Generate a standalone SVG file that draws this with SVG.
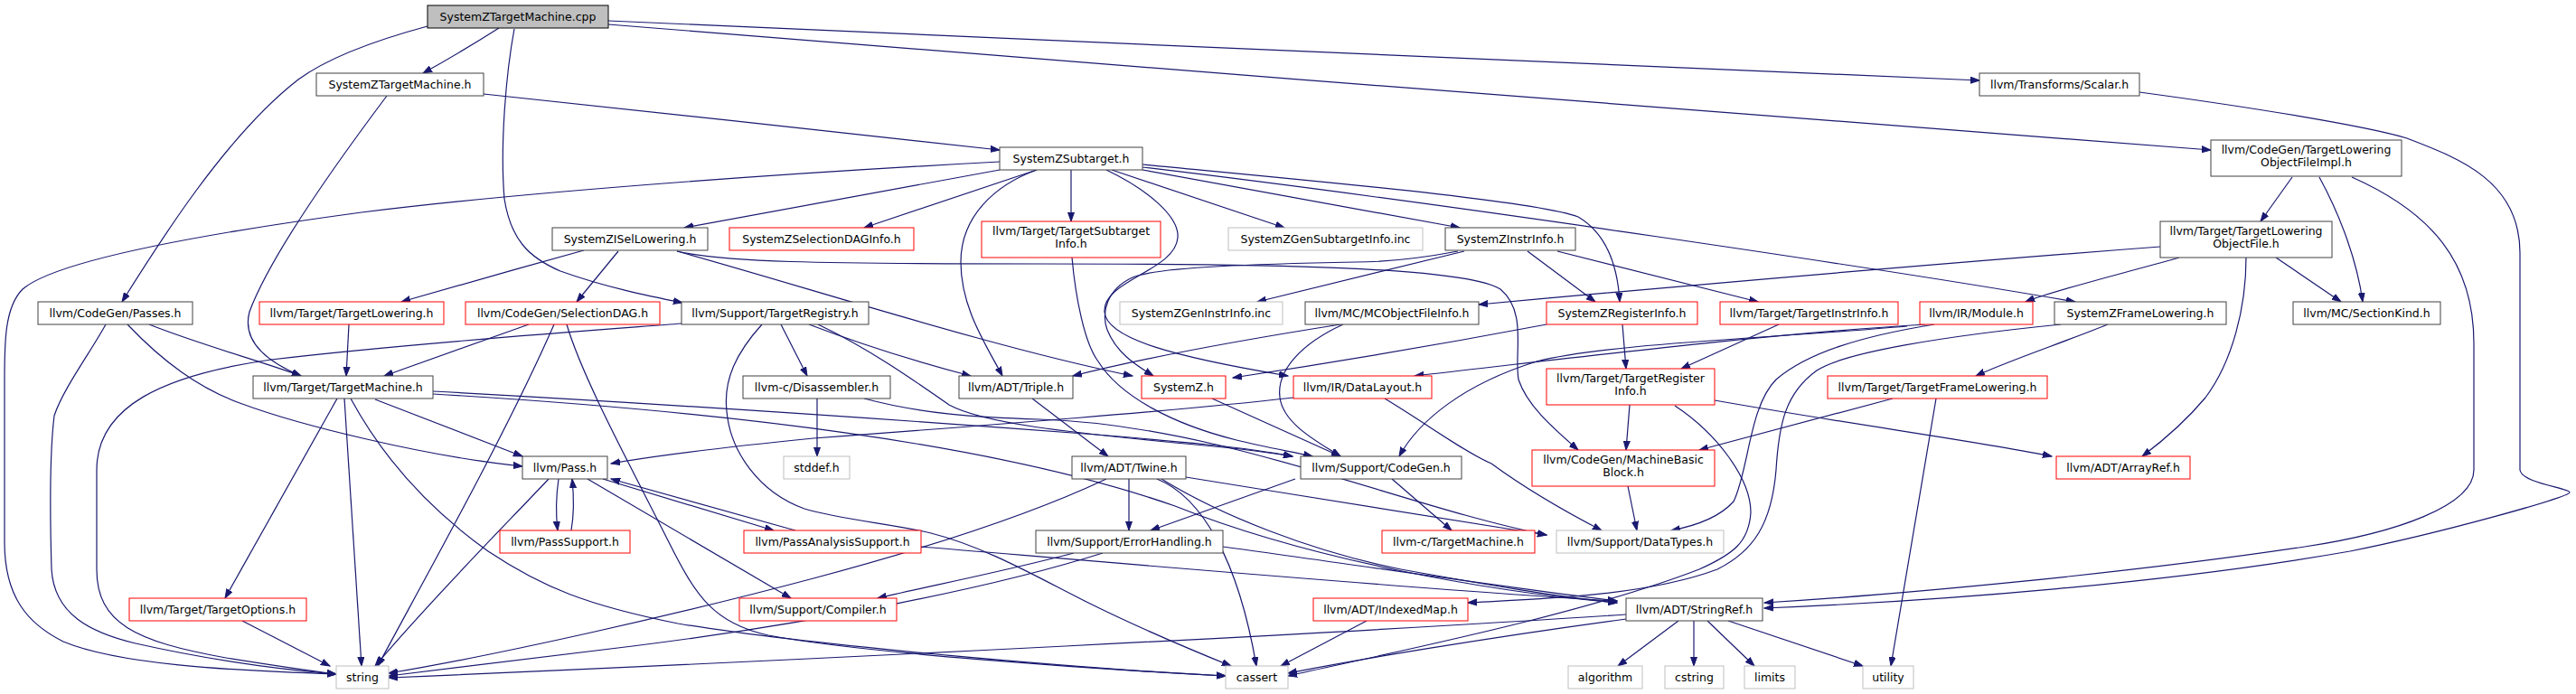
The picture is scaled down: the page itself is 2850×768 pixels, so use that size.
<svg xmlns="http://www.w3.org/2000/svg" width="2850" height="768" viewBox="0 0 2850 768">
<style>
rect{fill:#fff;stroke:#404040;stroke-width:1}
.root rect{fill:#bfbfbf;stroke:#000}
.red rect{stroke:#ff0000}
.sys rect{stroke:#bfbfbf}
text{font-family:"DejaVu Sans",Verdana,sans-serif;font-size:12.5px;fill:#000;text-anchor:middle}
#edges path{fill:none;stroke:#191970;stroke-width:1.2;marker-end:url(#ah)}
</style>
<defs>
<marker id="ah" markerUnits="userSpaceOnUse" markerWidth="11" markerHeight="8" refX="10" refY="4" orient="auto">
<path d="M0,0.5 L10,4 L0,7.5 z" fill="#191970" stroke="#191970"/>
</marker>
</defs>
<rect x="0" y="0" width="2850" height="768" style="fill:#fff;stroke:none"/>
<g id="edges">
<path d="M552,31 C530,45 495,66 468,81"/>
<path d="M473,29 C410,46 360,66 330,88 C250,150 175,270 135,334"/>
<path d="M569,32 C560,80 553,160 558,220 C565,265 585,285 620,300 C670,318 720,328 755,335"/>
<path d="M673,23 C1100,40 1800,75 2190,89"/>
<path d="M673,27 C1200,70 2100,140 2446,166"/>
<path d="M535,104 C700,121 950,149 1106,166"/>
<path d="M428,106 C380,170 300,280 276,345 C268,375 290,398 333,416"/>
<path d="M165,359 C220,381 290,400 333,416"/>
<path d="M141,359 C180,400 220,430 268,447 C330,470 470,505 578,516"/>
<path d="M117,359 C100,390 70,430 60,460 C55,500 55,560 57,630 C60,680 100,700 150,712 C230,730 300,740 372,746"/>
<path d="M386,359 L383,416"/>
<path d="M585,359 L425,416"/>
<path d="M613,359 C560,480 470,640 418,737"/>
<path d="M627,359 C645,420 700,520 740,600 C770,660 790,690 850,703 C950,722 1200,740 1356,748"/>
<path d="M754,358 C650,366 450,380 300,398 C180,415 107,450 107,520 L107,630 C107,690 150,710 250,728 C300,736 340,742 372,746"/>
<path d="M864,359 L893,416"/>
<path d="M895,359 C950,380 1020,402 1074,416"/>
<path d="M905,359 C960,385 1010,420 1050,448 C1090,470 1200,480 1300,490 C1360,495 1400,500 1430,505"/>
<path d="M843,359 C815,390 800,420 804,455 C808,500 840,545 890,563 C930,575 990,580 1030,590 C1090,605 1150,640 1200,665 C1260,695 1320,720 1362,737"/>
<path d="M1106,179 C900,190 600,210 400,235 C200,262 60,290 25,320 C5,340 5,380 5,420 L5,600 C5,660 30,690 70,710 C130,735 250,742 372,746"/>
<path d="M1106,188 L757,252"/>
<path d="M1147,188 L956,252"/>
<path d="M1185,188 L1185,245"/>
<path d="M1147,188 C1100,205 1063,240 1063,290 C1063,340 1090,380 1109,416"/>
<path d="M1224,188 C1270,210 1305,240 1303,263 C1300,300 1220,310 1222,345 C1224,375 1300,395 1425,416"/>
<path d="M1230,188 L1421,252"/>
<path d="M1264,188 L1615,252"/>
<path d="M1264,182 C1450,200 1700,222 1746,240 C1780,260 1790,300 1792,334"/>
<path d="M1264,185 C1600,225 2100,300 2296,334"/>
<path d="M646,277 C580,295 500,318 444,334"/>
<path d="M684,278 L638,334"/>
<path d="M749,278 C900,320 1100,385 1253,416"/>
<path d="M749,278 C800,290 900,292 1150,292 C1400,292 1620,295 1660,320 C1690,345 1675,390 1680,420 C1690,450 1720,475 1746,498"/>
<path d="M1186,285 C1190,330 1200,380 1215,400 C1240,440 1300,470 1368,487 C1400,495 1430,500 1452,505"/>
<path d="M1620,278 L1391,334"/>
<path d="M1690,278 L1765,334"/>
<path d="M1723,278 L1945,334"/>
<path d="M1613,278 C1560,288 1520,290 1500,290 C1400,292 1280,295 1253,307 C1225,320 1218,345 1225,365 C1235,390 1255,403 1276,416"/>
<path d="M2536,196 L2501,245"/>
<path d="M2566,196 C2590,240 2608,290 2614,334"/>
<path d="M2602,196 C2690,235 2737,290 2737,380 L2737,520 C2737,560 2650,590 2550,605 C2350,635 2100,658 1952,667"/>
<path d="M2367,102 C2500,120 2620,140 2663,153 C2720,175 2788,200 2788,280 L2788,520 C2790,535 2843,540 2843,545 C2843,550 2700,590 2600,610 C2400,645 2150,665 1952,673"/>
<path d="M2390,273 C2100,295 1800,322 1636,337"/>
<path d="M2411,285 C2340,305 2270,322 2241,334"/>
<path d="M2518,285 L2590,334"/>
<path d="M2485,285 C2485,340 2470,400 2440,440 C2415,470 2390,490 2370,505"/>
<path d="M1486,359 C1440,380 1412,410 1416,440 C1420,470 1460,490 1483,505"/>
<path d="M1483,359 C1350,380 1250,400 1187,416"/>
<path d="M1711,359 C1600,380 1450,405 1364,418"/>
<path d="M1795,359 L1799,408"/>
<path d="M1968,359 L1860,408"/>
<path d="M2130,359 C1950,370 1750,395 1565,416"/>
<path d="M2110,361 C1950,375 1780,380 1700,400 C1620,425 1570,465 1548,505"/>
<path d="M2140,359 C2060,372 2000,390 1965,420 C1935,450 1935,520 1918,555 C1900,575 1870,583 1849,587"/>
<path d="M2332,359 C2280,380 2220,400 2186,416"/>
<path d="M2280,359 C2150,372 2040,390 2010,410 C1975,435 1968,470 1965,520 C1960,580 1940,610 1900,630 C1820,660 1700,663 1624,667"/>
<path d="M373,441 L249,662"/>
<path d="M381,441 L400,737"/>
<path d="M388,441 C420,500 470,560 540,610 C600,650 650,670 750,690 C900,715 1200,740 1356,748"/>
<path d="M415,442 L578,505"/>
<path d="M479,433 C700,445 1000,465 1200,480 C1300,488 1380,495 1430,505"/>
<path d="M479,436 C800,455 1100,490 1300,560 C1450,620 1650,655 1789,667"/>
<path d="M904,441 L904,505"/>
<path d="M956,441 C1020,458 1080,462 1150,464 C1350,470 1550,560 1711,592"/>
<path d="M1142,441 L1226,505"/>
<path d="M1341,441 L1483,505"/>
<path d="M1431,440 C1300,455 1100,470 900,485 C800,495 720,505 676,513"/>
<path d="M1532,441 C1580,470 1620,500 1650,513 C1680,535 1720,560 1772,587"/>
<path d="M1803,448 L1799,498"/>
<path d="M1897,443 C2050,470 2200,490 2270,505"/>
<path d="M1853,449 C1900,480 1937,530 1937,567 C1935,600 1918,613 1880,630 C1750,680 1550,720 1425,748"/>
<path d="M2094,441 L1880,498"/>
<path d="M2142,441 L2092,737"/>
<path d="M618,530 C615,550 615,570 617,587"/>
<path d="M632,587 C635,570 635,550 633,530"/>
<path d="M667,530 L856,587"/>
<path d="M880,587 L676,530"/>
<path d="M650,530 L875,662"/>
<path d="M607,530 C560,580 480,660 415,737"/>
<path d="M1019,605 C1200,620 1600,655 1789,665"/>
<path d="M1249,530 L1249,587"/>
<path d="M1280,530 C1330,550 1370,620 1390,737"/>
<path d="M1224,530 C1150,565 1050,600 900,640 C750,680 550,725 430,745"/>
<path d="M1285,530 C1350,570 1450,610 1550,630 C1650,648 1720,660 1789,667"/>
<path d="M1312,528 C1450,550 1600,575 1711,592"/>
<path d="M1540,530 L1606,587"/>
<path d="M1433,530 L1273,587"/>
<path d="M1801,538 L1811,587"/>
<path d="M1188,612 C1100,635 1020,650 971,662"/>
<path d="M1220,612 C1100,650 900,690 700,715 C580,730 480,742 430,748"/>
<path d="M1353,605 C1500,625 1700,655 1789,665"/>
<path d="M268,687 L365,737"/>
<path d="M1512,687 L1417,737"/>
<path d="M1799,680 C1500,700 900,730 430,750"/>
<path d="M1799,685 C1650,705 1500,730 1425,745"/>
<path d="M1857,687 L1790,737"/>
<path d="M1874,687 L1874,737"/>
<path d="M1889,687 L1941,737"/>
<path d="M1912,687 L2061,737"/>
</g>
<g id="n0" class="root"><rect x="473" y="6" width="200" height="25"/><text x="573" y="23">SystemZTargetMachine.cpp</text></g>
<g id="n1"><rect x="350" y="81" width="185" height="25"/><text x="442.5" y="98">SystemZTargetMachine.h</text></g>
<g id="n2"><rect x="2190" y="81" width="177" height="25"/><text x="2278.5" y="98">llvm/Transforms/Scalar.h</text></g>
<g id="n3"><rect x="1106" y="163" width="158" height="25"/><text x="1185" y="180">SystemZSubtarget.h</text></g>
<g id="n4"><rect x="2446" y="155" width="211" height="40"/><text x="2551.5" y="170">llvm/CodeGen/TargetLowering</text><text x="2551.5" y="184">ObjectFileImpl.h</text></g>
<g id="n5"><rect x="611" y="252" width="172" height="25"/><text x="697" y="269">SystemZISelLowering.h</text></g>
<g id="n6" class="red"><rect x="807" y="252" width="204" height="25"/><text x="909" y="269">SystemZSelectionDAGInfo.h</text></g>
<g id="n7" class="red"><rect x="1086" y="245" width="198" height="40"/><text x="1185" y="260">llvm/Target/TargetSubtarget</text><text x="1185" y="274">Info.h</text></g>
<g id="n8" class="sys"><rect x="1359" y="252" width="215" height="25"/><text x="1466.5" y="269">SystemZGenSubtargetInfo.inc</text></g>
<g id="n9"><rect x="1599" y="252" width="144" height="25"/><text x="1671" y="269">SystemZInstrInfo.h</text></g>
<g id="n10"><rect x="2390" y="245" width="190" height="40"/><text x="2485" y="260">llvm/Target/TargetLowering</text><text x="2485" y="274">ObjectFile.h</text></g>
<g id="n11"><rect x="42" y="334" width="171" height="25"/><text x="127.5" y="351">llvm/CodeGen/Passes.h</text></g>
<g id="n12" class="red"><rect x="287" y="334" width="204" height="25"/><text x="389" y="351">llvm/Target/TargetLowering.h</text></g>
<g id="n13" class="red"><rect x="515" y="334" width="215" height="25"/><text x="622.5" y="351">llvm/CodeGen/SelectionDAG.h</text></g>
<g id="n14"><rect x="754" y="334" width="207" height="25"/><text x="857.5" y="351">llvm/Support/TargetRegistry.h</text></g>
<g id="n15" class="sys"><rect x="1239" y="334" width="180" height="25"/><text x="1329" y="351">SystemZGenInstrInfo.inc</text></g>
<g id="n16"><rect x="1444" y="334" width="192" height="25"/><text x="1540" y="351">llvm/MC/MCObjectFileInfo.h</text></g>
<g id="n17" class="red"><rect x="1711" y="334" width="167" height="25"/><text x="1794.5" y="351">SystemZRegisterInfo.h</text></g>
<g id="n18" class="red"><rect x="1903" y="334" width="197" height="25"/><text x="2001.5" y="351">llvm/Target/TargetInstrInfo.h</text></g>
<g id="n19" class="red"><rect x="2124" y="334" width="125" height="25"/><text x="2186.5" y="351">llvm/IR/Module.h</text></g>
<g id="n20"><rect x="2273" y="334" width="190" height="25"/><text x="2368" y="351">SystemZFrameLowering.h</text></g>
<g id="n21"><rect x="2537" y="334" width="163" height="25"/><text x="2618.5" y="351">llvm/MC/SectionKind.h</text></g>
<g id="n22"><rect x="280" y="416" width="199" height="25"/><text x="379.5" y="433">llvm/Target/TargetMachine.h</text></g>
<g id="n23"><rect x="822" y="416" width="163" height="25"/><text x="903.5" y="433">llvm-c/Disassembler.h</text></g>
<g id="n24"><rect x="1061" y="416" width="126" height="25"/><text x="1124" y="433">llvm/ADT/Triple.h</text></g>
<g id="n25" class="red"><rect x="1263" y="416" width="93" height="25"/><text x="1309.5" y="433">SystemZ.h</text></g>
<g id="n26" class="red"><rect x="1431" y="416" width="153" height="25"/><text x="1507.5" y="433">llvm/IR/DataLayout.h</text></g>
<g id="n27" class="red"><rect x="1711" y="408" width="186" height="40"/><text x="1804" y="423">llvm/Target/TargetRegister</text><text x="1804" y="437">Info.h</text></g>
<g id="n28" class="red"><rect x="2022" y="416" width="243" height="25"/><text x="2143.5" y="433">llvm/Target/TargetFrameLowering.h</text></g>
<g id="n29"><rect x="578" y="505" width="94" height="25"/><text x="625" y="522">llvm/Pass.h</text></g>
<g id="n30" class="sys"><rect x="867" y="505" width="73" height="25"/><text x="903.5" y="522">stddef.h</text></g>
<g id="n31"><rect x="1186" y="505" width="126" height="25"/><text x="1249" y="522">llvm/ADT/Twine.h</text></g>
<g id="n32"><rect x="1439" y="505" width="178" height="25"/><text x="1528" y="522">llvm/Support/CodeGen.h</text></g>
<g id="n33" class="red"><rect x="1695" y="498" width="202" height="40"/><text x="1796" y="513">llvm/CodeGen/MachineBasic</text><text x="1796" y="527">Block.h</text></g>
<g id="n34" class="red"><rect x="2275" y="505" width="148" height="25"/><text x="2349" y="522">llvm/ADT/ArrayRef.h</text></g>
<g id="n35" class="red"><rect x="553" y="587" width="144" height="25"/><text x="625" y="604">llvm/PassSupport.h</text></g>
<g id="n36" class="red"><rect x="823" y="587" width="196" height="25"/><text x="921" y="604">llvm/PassAnalysisSupport.h</text></g>
<g id="n37"><rect x="1146" y="587" width="207" height="25"/><text x="1249.5" y="604">llvm/Support/ErrorHandling.h</text></g>
<g id="n38" class="red"><rect x="1529" y="587" width="169" height="25"/><text x="1613.5" y="604">llvm-c/TargetMachine.h</text></g>
<g id="n39" class="sys"><rect x="1722" y="587" width="185" height="25"/><text x="1814.5" y="604">llvm/Support/DataTypes.h</text></g>
<g id="n40" class="red"><rect x="143" y="662" width="196" height="25"/><text x="241" y="679">llvm/Target/TargetOptions.h</text></g>
<g id="n41" class="red"><rect x="818" y="662" width="174" height="25"/><text x="905" y="679">llvm/Support/Compiler.h</text></g>
<g id="n42" class="red"><rect x="1453" y="662" width="171" height="25"/><text x="1538.5" y="679">llvm/ADT/IndexedMap.h</text></g>
<g id="n43"><rect x="1799" y="662" width="151" height="25"/><text x="1874.5" y="679">llvm/ADT/StringRef.h</text></g>
<g id="n44" class="sys"><rect x="372" y="737" width="58" height="25"/><text x="401" y="754">string</text></g>
<g id="n45" class="sys"><rect x="1356" y="737" width="69" height="25"/><text x="1390.5" y="754">cassert</text></g>
<g id="n46" class="sys"><rect x="1735" y="737" width="82" height="25"/><text x="1776" y="754">algorithm</text></g>
<g id="n47" class="sys"><rect x="1842" y="737" width="65" height="25"/><text x="1874.5" y="754">cstring</text></g>
<g id="n48" class="sys"><rect x="1930" y="737" width="56" height="25"/><text x="1958" y="754">limits</text></g>
<g id="n49" class="sys"><rect x="2061" y="737" width="56" height="25"/><text x="2089" y="754">utility</text></g>
</svg>
